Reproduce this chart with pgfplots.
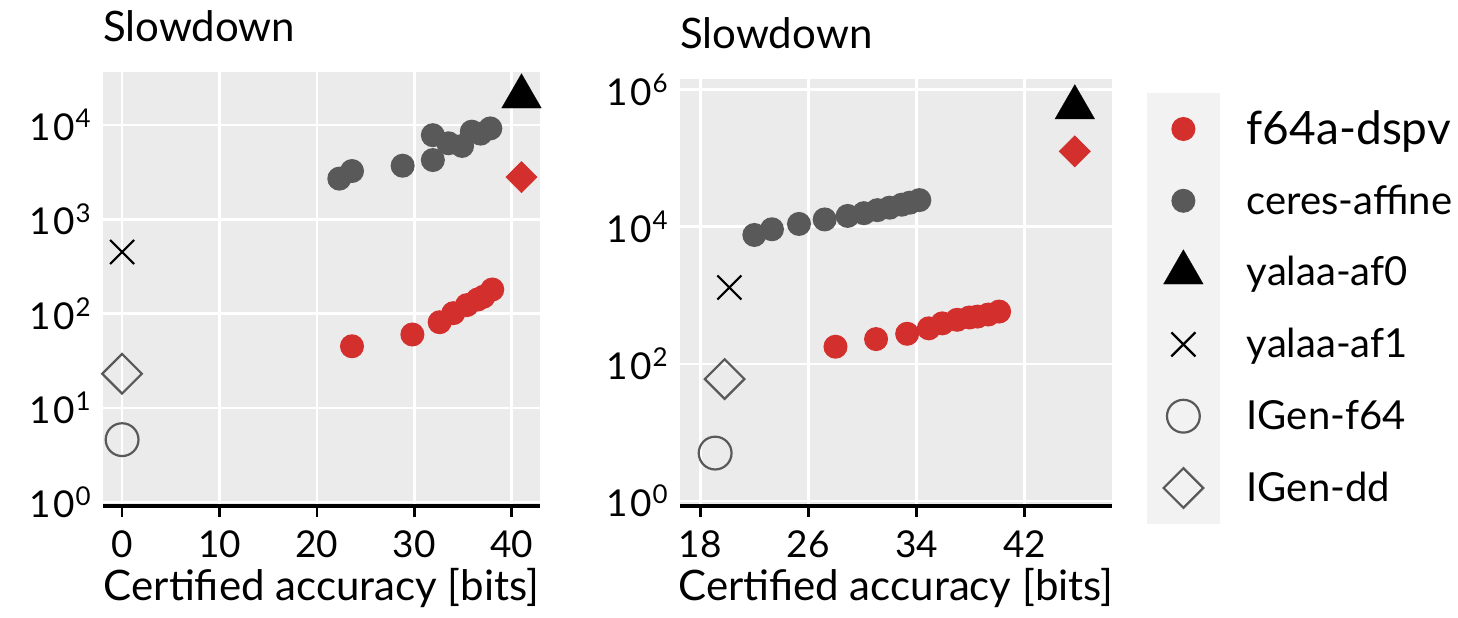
\documentclass[border=0pt]{standalone}
\usepackage{fontspec}
\setmainfont{Lato}
\usepackage{pgfplots}
\pgfplotsset{compat=1.18}
\definecolor{cred}{HTML}{D3302D}
\definecolor{cgrey}{HTML}{595959}
\definecolor{panel}{HTML}{EBEBEB}
\definecolor{legbg}{HTML}{F2F2F2}
\newcommand{\tl}[1]{1\kern1pt0\kern0.5pt\textsuperscript{#1}}
\pgfplotsset{
  myax/.style={
    scale only axis,
    axis x line=bottom, axis y line=left,
    x axis line style={-, line width=1.6pt, black},
    y axis line style={draw=none},
    axis background/.style={fill=panel},
    grid=major,
    grid style={white, line width=1.3pt},
    xtick style={black, line width=1.3pt},
    ytick style={draw=none},
    major tick length=5.5pt,
    tick align=outside,
    /pgf/number format/assume math mode=true,
    tick label style={font=\fontsize{18.5}{18.5}\selectfont},
    label style={font=\fontsize{21}{21}\selectfont},
    title style={font=\fontsize{21}{21}\selectfont, at={(0,1)}, anchor=base west, yshift=9.5pt, inner sep=0pt},
    xlabel style={at={(0.5,0)}, anchor=base, yshift=-47pt, inner sep=0pt},
    xticklabel style={anchor=base, yshift=-20.5pt, inner sep=0pt},
    yticklabel style={anchor=east, inner sep=0pt, xshift=0pt},
    title=Slowdown,
    xlabel={Certified accuracy [bits]},
    clip=false,
  },
  fdot/.style={only marks, color=cred, mark=*, mark size=5.6pt, mark options={draw=cred, fill=cred, line width=0.8pt}},
  gdot/.style={only marks, color=cgrey, mark=*, mark size=5.6pt, mark options={draw=cgrey, fill=cgrey, line width=0.8pt}},
  tri/.style={only marks, color=black, mark=triangle*, mark size=11.5pt, mark options={draw=black, fill=black, line width=0.1pt}},
  crs/.style={only marks, color=black, mark=x, mark size=8.5pt, mark options={draw=black, line width=1.1pt}},
  ocirc/.style={only marks, color=cgrey, mark=o, mark size=8.2pt, mark options={draw=cgrey, fill=white, line width=1.1pt}},
  odiam/.style={only marks, color=cgrey, mark=square, mark size=7pt, mark options={rotate=45, draw=cgrey, fill=white, line width=1.1pt}},
  rdiam/.style={only marks, color=cred, mark=square*, mark size=5.5pt, mark options={rotate=45, draw=cred, fill=cred, line width=0.3pt}},
}
\begin{document}
\begin{tikzpicture}
\useasboundingbox (0,0) rectangle (729pt,308.5pt);
% ---------- left panel ----------
\begin{semilogyaxis}[myax,
  at={(51.5pt,55.5pt)}, anchor=south west,
  width=218.5pt, height=217pt,
  xmin=-1.96, xmax=42.9, ymin=0.91, ymax=36500,
  xtick={0,10,20,30,40},
  ytick={1,10,100,1000,10000},
  yticklabels={\tl{0},\tl{1},\tl{2},\tl{3},\tl{4}},
]
\addplot[gdot] coordinates {(22.3,2700) (23.6,3250) (28.8,3700) (31.9,4250) (31.9,7800) (33.5,6400) (34.9,6000) (35.9,8500) (36.8,8100) (37.8,9200)};
\addplot[fdot] coordinates {(23.6,45) (29.8,60) (32.6,81) (34.0,101) (35.4,123) (36.5,141) (37.1,151) (38.0,180)};
\addplot[rdiam] coordinates {(41,2800)};
\addplot[tri] coordinates {(41,20000)};
\addplot[crs] coordinates {(0,450)};
\addplot[odiam] coordinates {(0,23)};
\addplot[ocirc] coordinates {(0,4.6)};
\end{semilogyaxis}
% ---------- right panel ----------
\begin{semilogyaxis}[myax,
  at={(340pt,55.5pt)}, anchor=south west,
  width=216pt, height=213.5pt,
  xmin=16.5, xmax=48.45, ymin=0.845, ymax=1432000,
  xtick={18,26,34,42},
  ytick={1,100,10000,1000000},
  yticklabels={\tl{0},\tl{2},\tl{4},\tl{6}},
  legend style={at={(1.081,0.967)}, anchor=north west, draw=none, fill=none,
    inner sep=0pt, outer sep=0pt, row sep=0pt, column sep=13.5pt,
    nodes={inner sep=0pt, outer sep=0pt, font=\fontsize{20}{20}\selectfont}},
  legend cell align=left,
  legend image code/.code={\fill[legbg] (-18pt,-17.75pt) rectangle (18pt,17.75pt); \draw[#1] plot coordinates {(0pt,0pt)};},
]
\addplot[fdot] coordinates {(28.0,178) (31.0,230) (33.3,275) (34.9,330) (35.9,390) (37.0,440) (37.9,475) (38.5,490) (39.3,525) (40.1,580)};
\addlegendentry{\fontsize{23}{23}\selectfont f64a-dspv}
\addplot[gdot] coordinates {(22.0,7600) (23.3,9200) (25.3,11000) (27.2,12800) (28.9,14400) (30.1,15800) (31.1,17500) (32.0,19000) (32.9,21000) (33.5,22500) (34.2,24500)};
\addlegendentry{ceres-affine}
\addplot[tri] coordinates {(45.7,550000)};
\addlegendentry{yalaa-af0}
\addplot[crs] coordinates {(20.15,1300)};
\addlegendentry{yalaa-af1}
\addplot[ocirc] coordinates {(19.1,5)};
\addlegendentry{IGen-f64}
\addplot[odiam] coordinates {(19.8,60)};
\addlegendentry{IGen-dd}
\addplot[rdiam, forget plot] coordinates {(45.7,126000)};
\end{semilogyaxis}
\end{tikzpicture}
\end{document}
